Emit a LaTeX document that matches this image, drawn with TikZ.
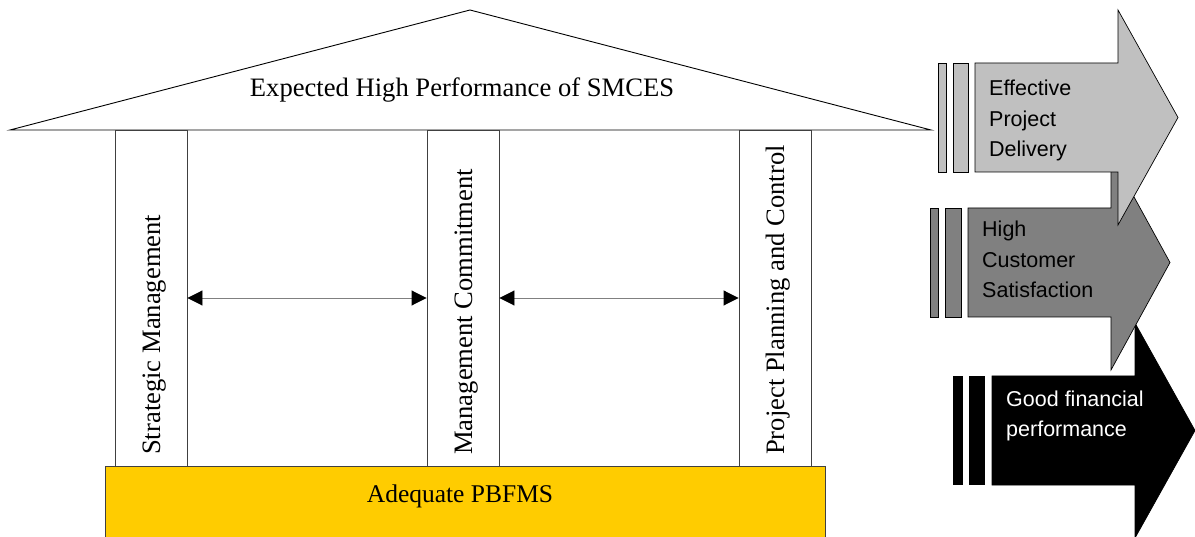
\documentclass[tikz,border=0pt]{standalone}
\usepackage{fontspec}
\setmainfont{Liberation Serif}
\newfontfamily\arialfont{Liberation Sans}
\usetikzlibrary{arrows.meta}
\definecolor{lgray}{HTML}{C0C0C0}
\definecolor{mgray}{HTML}{808080}
\definecolor{yfound}{HTML}{FFCC00}
\definecolor{edge}{HTML}{404040}
\tikzset{
  pillar/.style={draw=edge, line width=0.9pt, fill=white, minimum width=72pt, minimum height=336pt, inner sep=0pt},
  serif/.style={font=\fontsize{26.6}{30}\selectfont, inner sep=0pt},
  ptext/.style={serif, rotate=90, anchor=base west},
  sans/.style={font=\arialfont\fontsize{21.5}{30.5}\selectfont, inner sep=0pt, anchor=base west, align=left},
  arrowshape/.style={draw=black, line width=0.7pt},
  link/.style={draw=mgray, line width=0.9pt, {Triangle[length=15pt,width=15pt,color=black]}-{Triangle[length=15pt,width=15pt,color=black]}}
}
\begin{document}
\begin{tikzpicture}[x=1pt,y=-1pt]
\useasboundingbox (0,0) rectangle (1195,537);
\clip (0,0) rectangle (1195,537);
% roof
\draw[draw=black, line width=0.9pt, fill=white] (10,130) -- (470,10) -- (931,130) -- cycle;
\node[serif, anchor=base] (roof) at (462,97) {Expected High Performance of SMCES};
% pillars
\node[pillar] (sm) at (151,298) {};
\node[pillar] (mc) at (463,298) {};
\node[pillar] (pp) at (775,298) {};
\node[ptext] (smt) at (160,455) {Strategic Management};
\node[ptext] (mct) at (472,455) {Management Commitment};
\node[ptext] (ppt) at (784,455) {Project Planning and Control};
% foundation
\draw[draw=edge, line width=0.9pt, fill=yfound] (105,466) rectangle (825,540);
\node[serif, font=\fontsize{25.5}{30}\selectfont, anchor=base] (found) at (460,502) {Adequate PBFMS};
% links
\draw[link] (sm.east) -- (mc.west);
\draw[link] (mc.east) -- (pp.west);
% arrow 3 (black)
\fill[black] (953,376) rectangle (963,485);
\fill[black] (969,376) rectangle (985,485);
\draw[arrowshape, fill=black] (992,376) -- (1135,376) -- (1135,323) -- (1195,430.5) -- (1135,538) -- (1135,485) -- (992,485) -- cycle;
\node[sans, text=white] (a3) at (1006,437) {Good financial\\performance};
% arrow 2 (gray)
\draw[arrowshape, fill=mgray] (930,208) rectangle (938,317);
\draw[arrowshape, fill=mgray] (945,208) rectangle (961,317);
\draw[arrowshape, fill=mgray] (968,208) -- (1111,208) -- (1111,155) -- (1170,262.5) -- (1111,370) -- (1111,317) -- (968,317) -- cycle;
\node[sans] (a2) at (982,298) {High\\Customer\\Satisfaction};
% arrow 1 (light gray)
\draw[arrowshape, fill=lgray] (938,63) rectangle (946,172);
\draw[arrowshape, fill=lgray] (953,63) rectangle (968,172);
\draw[arrowshape, fill=lgray] (975,63) -- (1118,63) -- (1118,10) -- (1178,117.5) -- (1118,225) -- (1118,172) -- (975,172) -- cycle;
\node[sans] (a1) at (989,157) {Effective\\Project\\Delivery};
\end{tikzpicture}
\end{document}
